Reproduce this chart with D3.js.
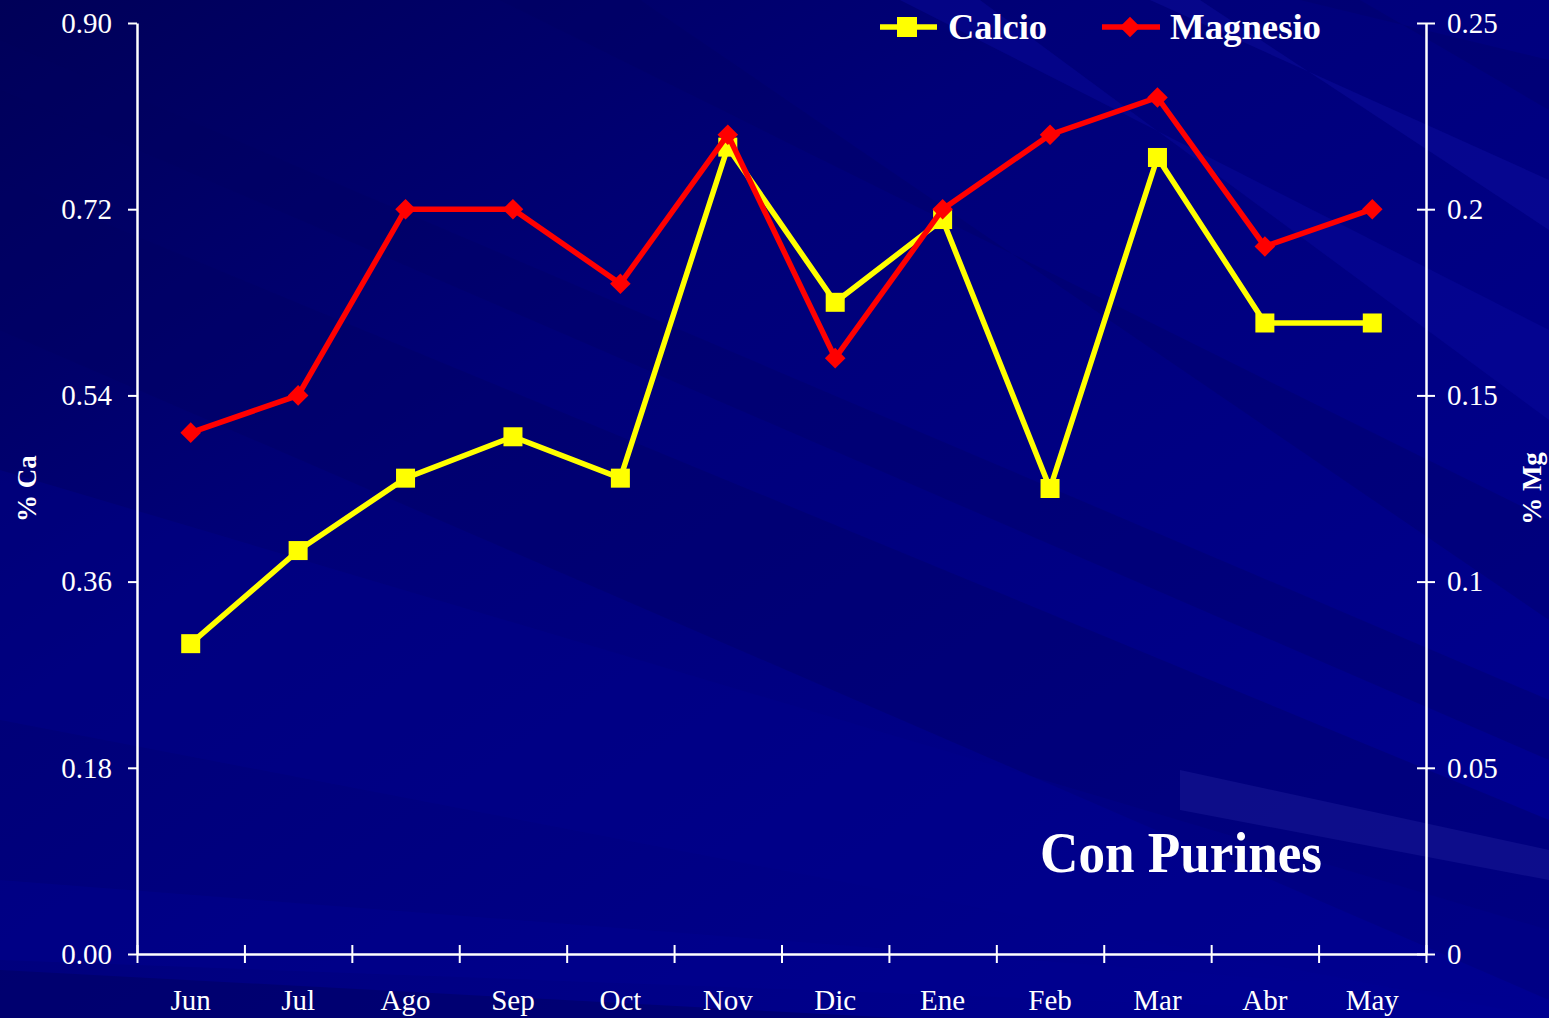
<!DOCTYPE html>
<html>
<head>
<meta charset="utf-8">
<script src="https://cdn.jsdelivr.net/npm/d3@7/dist/d3.min.js"></script>
<style>
  body { margin: 0; background: #000080; overflow: hidden; }
  text { font-family: "Liberation Serif", "Times New Roman", serif; fill: #fff; }
</style>
</head>
<body>
<div id="chart"></div>
<script>
// data
var months = ["Jun", "Jul", "Ago", "Sep", "Oct", "Nov", "Dic", "Ene", "Feb", "Mar", "Abr", "May"];
var calcio = [0.30, 0.39, 0.46, 0.50, 0.46, 0.78, 0.63, 0.71, 0.45, 0.77, 0.61, 0.61];
var magnesio = [0.14, 0.15, 0.20, 0.20, 0.18, 0.22, 0.16, 0.20, 0.22, 0.23, 0.19, 0.20];
var caTicks = [0, 0.18, 0.36, 0.54, 0.72, 0.90];
var mgTicks = [0, 0.05, 0.1, 0.15, 0.2, 0.25];

var W = 1549, H = 1018;
var margin = {top: 23, right: 123, bottom: 64, left: 137};

var svg = d3.select("#chart")
  .append("svg")
    .attr("width", W)
    .attr("height", H);

/////////////// background ///////////////
var defs = svg.append("defs");
var bg = defs.append("linearGradient")
  .attr("id", "bg")
  .attr("x1", "0").attr("y1", "0")
  .attr("x2", "1").attr("y2", "1");
bg.append("stop").attr("offset", "0%").attr("stop-color", "#000058");
bg.append("stop").attr("offset", "35%").attr("stop-color", "#000078");
bg.append("stop").attr("offset", "100%").attr("stop-color", "#000094");

svg.append("rect")
  .attr("width", W).attr("height", H)
  .attr("fill", "url(#bg)");

// diagonal streaks (decoration only)
var streaks = [
  {p: [[0, 180], [0, 330], [1549, 1000], [1549, 820]], c: "#000060", o: 0.35},
  {p: [[0, 470], [0, 720], [1549, 1018], [1549, 930]], c: "#00008c", o: 0.4},
  {p: [[0, 880], [0, 960], [1549, 1018], [1549, 1000]], c: "#000090", o: 0.4},
  {p: [[0, 970], [0, 1018], [900, 1018]], c: "#000060", o: 0.5},
  {p: [[1180, 770], [1180, 810], [1549, 880], [1549, 850]], c: "#2a2aa8", o: 0.3},
  {p: [[900, 0], [980, 0], [1549, 420], [1549, 330]], c: "#0a0aa0", o: 0.4},
  {p: [[1150, 0], [1200, 0], [1549, 230], [1549, 180]], c: "#1010a8", o: 0.35},
  {p: [[1300, 0], [1360, 0], [1549, 110], [1549, 60]], c: "#00006a", o: 0.4},
  {p: [[500, 0], [640, 0], [1549, 620], [1549, 520]], c: "#000060", o: 0.3},
  {p: [[0, 40], [0, 90], [1549, 760], [1549, 700]], c: "#000060", o: 0.3}
];
svg.append("g")
  .selectAll("polygon")
  .data(streaks)
  .enter()
  .append("polygon")
    .attr("points", function(d) { return d.p.map(function(q) { return q.join(","); }).join(" "); })
    .attr("fill", function(d) { return d.c; })
    .attr("opacity", function(d) { return d.o; });

/////////////// scales ///////////////
var x = d3.scaleBand()
  .domain(months)
  .range([margin.left, W - margin.right])
  .padding(0);

var xEdge = d3.scaleLinear()
  .domain([0, months.length])
  .range([margin.left, W - margin.right]);

var yCa = d3.scaleLinear()
  .domain([0, 0.9])
  .range([H - margin.bottom, margin.top]);

var yMg = d3.scaleLinear()
  .domain([0, 0.25])
  .range([H - margin.bottom, margin.top]);

var cx = function(d, i) { return x(months[i]) + x.bandwidth() / 2; };

/////////////// axes ///////////////
function styleAxis(g) {
  g.select(".domain").attr("stroke", "#fff").attr("stroke-width", 2.5);
  g.selectAll(".tick line").attr("stroke", "#fff").attr("stroke-width", 2);
  g.selectAll(".tick text")
    .style("font-family", "'Liberation Serif', 'Times New Roman', serif")
    .style("font-size", "29px")
    .attr("fill", "#fff");
}

// left axis
var gLeft = svg.append("g")
  .attr("transform", "translate(" + margin.left + ",0)")
  .call(d3.axisLeft(yCa).tickValues(caTicks).tickFormat(d3.format(".2f"))
    .tickSize(9).tickPadding(16).tickSizeOuter(0));
gLeft.selectAll(".tick line").attr("x1", 0);
styleAxis(gLeft);

// right axis
var gRight = svg.append("g")
  .attr("transform", "translate(" + (W - margin.right) + ",0)")
  .call(d3.axisRight(yMg).tickValues(mgTicks).tickFormat(function(d) { return String(+d.toFixed(2)); })
    .tickSize(9).tickPadding(12).tickSizeOuter(0));
gRight.selectAll(".tick line").attr("x1", -9);
styleAxis(gRight);

// bottom axis: ticks on category boundaries, labels centred
var gBottom = svg.append("g")
  .attr("transform", "translate(0," + (H - margin.bottom) + ")")
  .call(d3.axisBottom(xEdge).tickValues(d3.range(months.length + 1)).tickFormat("")
    .tickSize(9).tickSizeOuter(0));
gBottom.selectAll(".tick line").attr("y1", -9);
styleAxis(gBottom);

var gLabels = svg.append("g")
  .attr("transform", "translate(0," + (H - margin.bottom) + ")")
  .call(d3.axisBottom(x).tickSize(0).tickPadding(35));
gLabels.select(".domain").remove();
styleAxis(gLabels);

// axis titles
svg.append("text")
  .attr("transform", "translate(36," + ((margin.top + H - margin.bottom) / 2) + ") rotate(-90)")
  .attr("text-anchor", "middle")
  .style("font-size", "27px")
  .style("font-weight", "bold")
  .text("% Ca");

svg.append("text")
  .attr("transform", "translate(1541," + ((margin.top + H - margin.bottom) / 2) + ") rotate(-90)")
  .attr("text-anchor", "middle")
  .style("font-size", "27px")
  .style("font-weight", "bold")
  .text("% Mg");

/////////////// lines ///////////////
var lineCa = d3.line()
  .x(cx)
  .y(function(d) { return yCa(d); });

var lineMg = d3.line()
  .x(cx)
  .y(function(d) { return yMg(d); });

svg.append("path")
  .datum(calcio)
  .attr("d", lineCa)
  .attr("fill", "none")
  .attr("stroke", "#ffff00")
  .attr("stroke-width", 5.5);

svg.append("g")
  .selectAll("rect")
  .data(calcio)
  .enter()
  .append("rect")
    .attr("x", function(d, i) { return cx(d, i) - 9.5; })
    .attr("y", function(d) { return yCa(d) - 9.5; })
    .attr("width", 19)
    .attr("height", 19)
    .attr("fill", "#ffff00");

svg.append("path")
  .datum(magnesio)
  .attr("d", lineMg)
  .attr("fill", "none")
  .attr("stroke", "#ff0000")
  .attr("stroke-width", 5.5);

var diamond = d3.symbol().type(d3.symbolDiamond2).size(270);
svg.append("g")
  .selectAll("path")
  .data(magnesio)
  .enter()
  .append("path")
    .attr("transform", function(d, i) { return "translate(" + cx(d, i) + "," + yMg(d) + ")"; })
    .attr("d", diamond)
    .attr("fill", "#ff0000");

/////////////// legend ///////////////
var legend = svg.append("g");
legend.append("line")
  .attr("x1", 880).attr("x2", 937).attr("y1", 27).attr("y2", 27)
  .attr("stroke", "#ffff00").attr("stroke-width", 5.5);
legend.append("rect")
  .attr("x", 897).attr("y", 17).attr("width", 20).attr("height", 20)
  .attr("fill", "#ffff00");
legend.append("text")
  .attr("x", 948).attr("y", 39)
  .style("font-size", "35px").style("font-weight", "bold")
  .attr("textLength", 99).attr("lengthAdjust", "spacingAndGlyphs")
  .text("Calcio");

legend.append("line")
  .attr("x1", 1102).attr("x2", 1160).attr("y1", 27).attr("y2", 27)
  .attr("stroke", "#ff0000").attr("stroke-width", 5.5);
legend.append("path")
  .attr("transform", "translate(1130,27)")
  .attr("d", diamond)
  .attr("fill", "#ff0000");
legend.append("text")
  .attr("x", 1170).attr("y", 39)
  .style("font-size", "35px").style("font-weight", "bold")
  .attr("textLength", 151).attr("lengthAdjust", "spacingAndGlyphs")
  .text("Magnesio");

// annotation
svg.append("text")
  .attr("x", 1040).attr("y", 872)
  .style("font-size", "57px").style("font-weight", "bold")
  .attr("textLength", 282).attr("lengthAdjust", "spacingAndGlyphs")
  .text("Con Purines");
</script>
</body>
</html>
